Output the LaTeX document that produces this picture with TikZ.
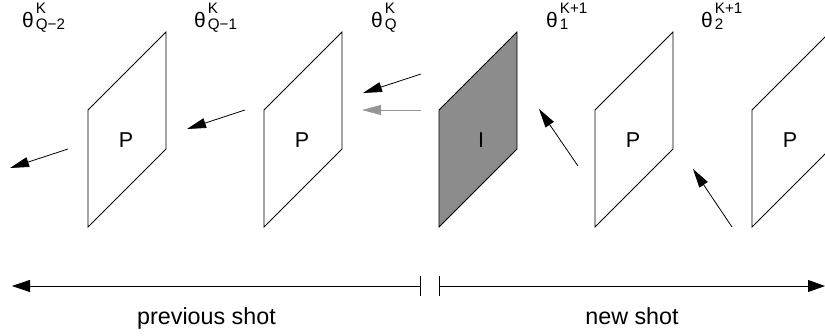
\documentclass[tikz,border=0pt]{standalone}
\usepackage{fontspec}
\setmainfont{Liberation Sans}
\usetikzlibrary{arrows.meta}
\definecolor{iframe}{RGB}{140,140,140}
\definecolor{garrow}{RGB}{150,150,150}
\newcommand\scr{\fontsize{15.2}{16}\selectfont}
\newcommand\thlab[2]{\fontsize{21}{24}\selectfont θ\kern2pt\rlap{\raisebox{14pt}{\scr #1}}\rlap{\raisebox{-2pt}{\scr #2}}}
\tikzset{
  frame/.style={draw=black, line width=0.8pt, line join=miter},
  flabel/.style={anchor=base, inner sep=0pt, font=\fontsize{21.5}{24}\selectfont},
  thetalbl/.style={anchor=base west, inner sep=0pt},
  motion/.style={draw=black, line width=0.8pt, -{Triangle[length=19pt,width=10pt]}},
  gmotion/.style={draw=garrow, line width=0.8pt, -{Triangle[length=19pt,width=10pt]}},
  timeline/.style={draw=black, line width=0.8pt},
  shotlbl/.style={anchor=base, inner sep=0pt, font=\fontsize{23.3}{26}\selectfont}
}
\begin{document}
\begin{tikzpicture}[x=1pt,y=-1pt]
\clip (0,0) rectangle (825,336);
% frames
\foreach \xl in {88,264,595,752}
  \draw[frame] (\xl,110) -- (\xl+78,32) -- (\xl+78,149) -- (\xl,227) -- cycle;
\draw[frame, fill=iframe] (439,110) -- (517,32) -- (517,149) -- (439,227) -- cycle;
% frame labels
\node[flabel] (p1) at (126,148) {P};
\node[flabel] (p2) at (302,148) {P};
\node[flabel] (i1) at (481,148) {I};
\node[flabel] (p3) at (633,148) {P};
\node[flabel] (p4) at (790,148) {P};
% theta labels
\node[thetalbl] (t1) at (22,28) {\thlab{K}{Q−2}};
\node[thetalbl] (t2) at (194,28) {\thlab{K}{Q−1}};
\node[thetalbl] (t3) at (371,28) {\thlab{K}{Q}};
\node[thetalbl] (t4) at (546,28) {\thlab{K+1}{1}};
\node[thetalbl] (t5) at (701,28) {\thlab{K+1}{2}};
% motion arrows
\coordinate (a1s) at (68,149);  \coordinate (a1e) at (10,168);
\coordinate (a2s) at (245,110); \coordinate (a2e) at (187,129);
\coordinate (a3s) at (421,74);  \coordinate (a3e) at (363,93);
\coordinate (a4s) at (421,110); \coordinate (a4e) at (362,110);
\coordinate (a5s) at (578,166); \coordinate (a5e) at (539,109);
\coordinate (a6s) at (732,227); \coordinate (a6e) at (693,169);
\draw[motion] (a1s) -- (a1e);
\draw[motion] (a2s) -- (a2e);
\draw[motion] (a3s) -- (a3e);
\draw[gmotion] (a4s) -- (a4e);
\draw[motion] (a5s) -- (a5e);
\draw[motion] (a6s) -- (a6e);
% timeline
\coordinate (tl0) at (420,286); \coordinate (tl1) at (12,286);
\coordinate (tr0) at (439,286); \coordinate (tr1) at (825,286);
\coordinate (tlu) at (420,276); \coordinate (tld) at (420,296);
\coordinate (tru) at (439,276); \coordinate (trd) at (439,296);
\draw[timeline, -{Triangle[length=18pt,width=12pt]}] (tl0) -- (tl1);
\draw[timeline, -{Triangle[length=17pt,width=12pt]}] (tr0) -- (tr1);
\draw[timeline] (tlu) -- (tld);
\draw[timeline] (tru) -- (trd);
\node[shotlbl] (prev) at (206.5,325) {previous shot};
\node[shotlbl] (new) at (632,325) {new shot};
\end{tikzpicture}
\end{document}
